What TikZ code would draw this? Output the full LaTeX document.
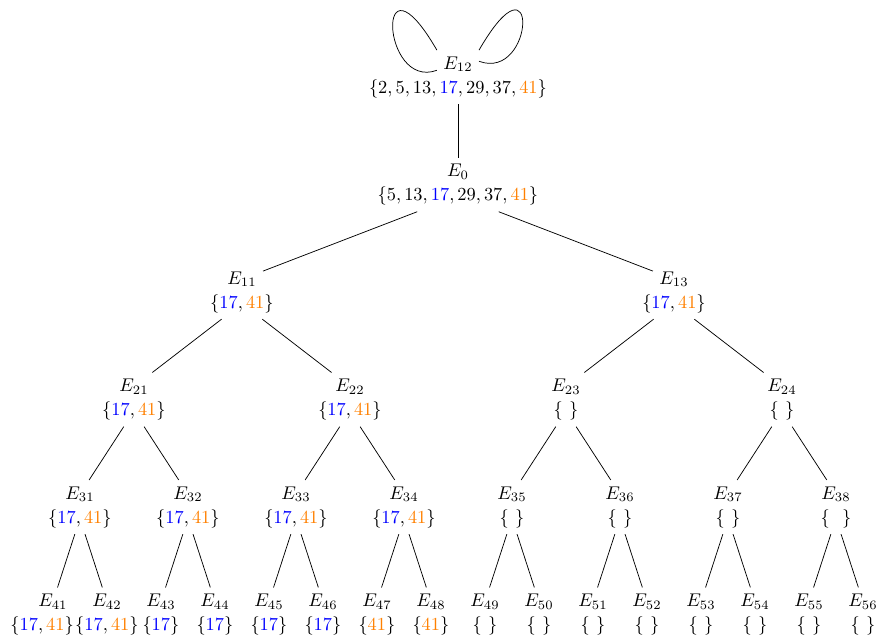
\documentclass[tikz,border=0pt]{standalone}
\usepackage{xcolor}
\usepackage{amsmath, amsfonts, amssymb}
\usepackage{tikz}

\begin{document}
\begin{tikzpicture}[x=1.0315cm, y=1.0315cm]
    \useasboundingbox (0.02, 0) rectangle (16.26, -11.87);

    \node at (8.5, -1.19) (e12) {$E_{12}$};
    \node at (8.5, -1.64) (s12) {$\{2, 5, 13, \textcolor{blue}{17}, 29, 37, \textcolor{orange}{41}\}$};
    \node at (8.5, -3.18) (e0) {$E_0$};
    \node at (8.5, -3.63) (s0) {$\{5, 13, \textcolor{blue}{17}, 29, 37, \textcolor{orange}{41}\}$};

    \node at (4.5, -5.17) (e11) {$E_{11}$};
    \node at (4.5, -5.62) (s11) {$\{\textcolor{blue}{17}, \textcolor{orange}{41}\}$};
    \node at (12.5, -5.17) (e13) {$E_{13}$};
    \node at (12.5, -5.62) (s13) {$\{\textcolor{blue}{17}, \textcolor{orange}{41}\}$};

    \node at (2.5, -7.16) (e21) {$E_{21}$};
    \node at (2.5, -7.61) (s21) {$\{\textcolor{blue}{17}, \textcolor{orange}{41}\}$};
    \node at (6.5, -7.16) (e22) {$E_{22}$};
    \node at (6.5, -7.61) (s22) {$\{\textcolor{blue}{17}, \textcolor{orange}{41}\}$};
    \node at (10.5, -7.16) (e23) {$E_{23}$};
    \node at (10.5, -7.61) (s23) {$\{\ \}$};
    \node at (14.5, -7.16) (e24) {$E_{24}$};
    \node at (14.5, -7.61) (s24) {$\{\ \}$};

    \node at (1.5, -9.15) (e31) {$E_{31}$};
    \node at (1.5, -9.60) (s31) {$\{\textcolor{blue}{17}, \textcolor{orange}{41}\}$};
    \node at (3.5, -9.15) (e32) {$E_{32}$};
    \node at (3.5, -9.60) (s32) {$\{\textcolor{blue}{17}, \textcolor{orange}{41}\}$};
    \node at (5.5, -9.15) (e33) {$E_{33}$};
    \node at (5.5, -9.60) (s33) {$\{\textcolor{blue}{17}, \textcolor{orange}{41}\}$};
    \node at (7.5, -9.15) (e34) {$E_{34}$};
    \node at (7.5, -9.60) (s34) {$\{\textcolor{blue}{17}, \textcolor{orange}{41}\}$};
    \node at (9.5, -9.15) (e35) {$E_{35}$};
    \node at (9.5, -9.60) (s35) {$\{\ \}$};
    \node at (11.5, -9.15) (e36) {$E_{36}$};
    \node at (11.5, -9.60) (s36) {$\{\ \}$};
    \node at (13.5, -9.15) (e37) {$E_{37}$};
    \node at (13.5, -9.60) (s37) {$\{\ \}$};
    \node at (15.5, -9.15) (e38) {$E_{38}$};
    \node at (15.5, -9.60) (s38) {$\{\ \ \}$};

    \node at (1, -11.14) (e41) {$E_{41}$};
    \node at (0.8, -11.59) (s41) {$\{\textcolor{blue}{17}, \textcolor{orange}{41}\}$};
    \node at (2, -11.14) (e42) {$E_{42}$};
    \node at (2, -11.59) (s42) {$\{\textcolor{blue}{17}, \textcolor{orange}{41}\}$};
    \node at (3, -11.14) (e43) {$E_{43}$};
    \node at (3, -11.59) (s43) {$\{\textcolor{blue}{17}\}$};
    \node at (4, -11.14) (e44) {$E_{44}$};
    \node at (4, -11.59) (s44) {$\{\textcolor{blue}{17}\}$};
    \node at (5, -11.14) (e45) {$E_{45}$};
    \node at (5, -11.59) (s45) {$\{\textcolor{blue}{17}\}$};
    \node at (6, -11.14) (e46) {$E_{46}$};
    \node at (6, -11.59) (s46) {$\{\textcolor{blue}{17}\}$};
    \node at (7, -11.14) (e47) {$E_{47}$};
    \node at (7, -11.59) (s47) {$\{\textcolor{orange}{41}\}$};
    \node at (8, -11.14) (e48) {$E_{48}$};
    \node at (8, -11.59) (s48) {$\{\textcolor{orange}{41}\}$};
    \node at (9, -11.14) (e49) {$E_{49}$};
    \node at (9, -11.59) (s49) {$\{\ \}$};
    \node at (10, -11.14) (e50) {$E_{50}$};
    \node at (10, -11.59) (s50) {$\{\ \}$};
    \node at (11, -11.14) (e51) {$E_{51}$};
    \node at (11, -11.59) (s51) {$\{\ \}$};
    \node at (12, -11.14) (e52) {$E_{52}$};
    \node at (12, -11.59) (s52) {$\{\ \}$};
    \node at (13, -11.14) (e53) {$E_{53}$};
    \node at (13, -11.59) (s53) {$\{\ \}$};
    \node at (14, -11.14) (e54) {$E_{54}$};
    \node at (14, -11.59) (s54) {$\{\ \}$};
    \node at (15, -11.14) (e55) {$E_{55}$};
    \node at (15, -11.59) (s55) {$\{\ \}$};
    \node at (16, -11.14) (e56) {$E_{56}$};
    \node at (16, -11.59) (s56) {$\{\ \}$};

    \draw (e12.north west) .. controls +(120:2.3) and +(200:1.1) .. (e12.196);
    \draw (e12.north east) .. controls +(60:2.25) and +(-20:1.1) .. (e12.8);

    \draw (s12) -- (e0);
    \draw (s0) -- (e11); \draw (s0) -- (e13);
    \draw (s11) -- (e21); \draw (s11) -- (e22);
    \draw (s13) -- (e23); \draw (s13) -- (e24);
    \draw (s21) -- (e31); \draw (s21) -- (e32);
    \draw (s22) -- (e33); \draw (s22) -- (e34);
    \draw (s23) -- (e35); \draw (s23) -- (e36);
    \draw (s24) -- (e37); \draw (s24) -- (e38);
    \draw (s31) -- (e41); \draw (s31) -- (e42);
    \draw (s32) -- (e43); \draw (s32) -- (e44);
    \draw (s33) -- (e45); \draw (s33) -- (e46);
    \draw (s34) -- (e47); \draw (s34) -- (e48);
    \draw (s35) -- (e49); \draw (s35) -- (e50);
    \draw (s36) -- (e51); \draw (s36) -- (e52);
    \draw (s37) -- (e53); \draw (s37) -- (e54);
    \draw (s38) -- (e55); \draw (s38) -- (e56);
\end{tikzpicture}
\end{document}
